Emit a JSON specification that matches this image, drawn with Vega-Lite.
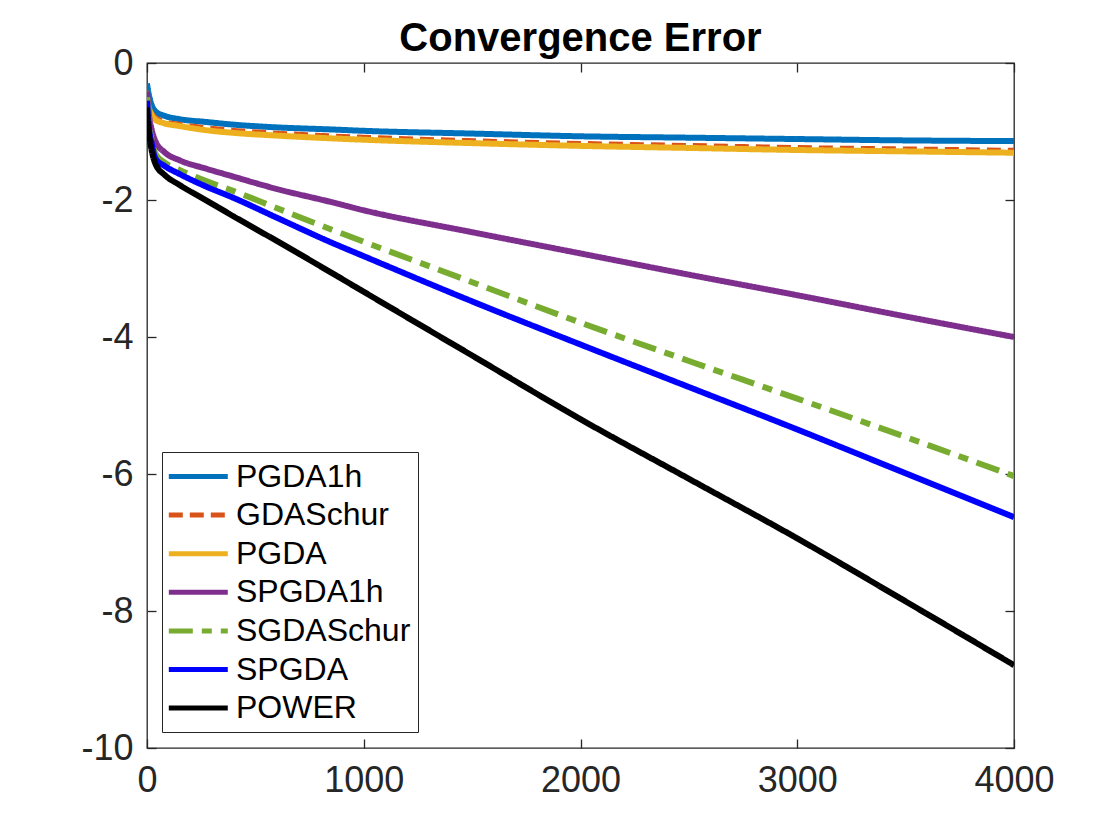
{
  "$schema": "https://vega.github.io/schema/vega-lite/v6.json",
  "width": 867,
  "height": 685,
  "autosize": {"type": "none"},
  "padding": {"left": 147, "top": 63, "right": 106, "bottom": 92},
  "background": "white",
  "title": {"text": "Convergence Error", "fontSize": 40, "fontWeight": "bold", "font": "Liberation Sans", "color": "#000000", "offset": -14},
  "config": {
    "font": "Liberation Sans",
    "view": {"stroke": "#262626", "strokeWidth": 1.3},
    "axis": {"grid": false, "domain": false, "labelFont": "Liberation Sans", "labelFontSize": 36, "labelColor": "#262626", "tickColor": "#262626", "tickSize": -9, "tickWidth": 1.3, "title": null, "labelFlush": false},
    "legend": {"labelFont": "Liberation Sans"}
  },
  "data": {"values": [
    {"series":"PGDA1h","x":0,"y":-0.3},{"series":"PGDA1h","x":5,"y":-0.4},{"series":"PGDA1h","x":10,"y":-0.48},{"series":"PGDA1h","x":20,"y":-0.6},{"series":"PGDA1h","x":40,"y":-0.71},{"series":"PGDA1h","x":80,"y":-0.77},{"series":"PGDA1h","x":150,"y":-0.82},{"series":"PGDA1h","x":270,"y":-0.86},{"series":"PGDA1h","x":400,"y":-0.9},{"series":"PGDA1h","x":600,"y":-0.94},{"series":"PGDA1h","x":850,"y":-0.97},{"series":"PGDA1h","x":1000,"y":-0.99},{"series":"PGDA1h","x":1500,"y":-1.03},{"series":"PGDA1h","x":2000,"y":-1.07},{"series":"PGDA1h","x":2500,"y":-1.09},{"series":"PGDA1h","x":3000,"y":-1.11},{"series":"PGDA1h","x":3500,"y":-1.13},{"series":"PGDA1h","x":4000,"y":-1.14},
    {"series":"GDASchur","x":0,"y":-0.4},{"series":"GDASchur","x":5,"y":-0.5},{"series":"GDASchur","x":10,"y":-0.58},{"series":"GDASchur","x":20,"y":-0.68},{"series":"GDASchur","x":40,"y":-0.78},{"series":"GDASchur","x":80,"y":-0.84},{"series":"GDASchur","x":150,"y":-0.88},{"series":"GDASchur","x":270,"y":-0.93},{"series":"GDASchur","x":400,"y":-0.97},{"series":"GDASchur","x":600,"y":-1.01},{"series":"GDASchur","x":850,"y":-1.05},{"series":"GDASchur","x":1000,"y":-1.07},{"series":"GDASchur","x":1500,"y":-1.12},{"series":"GDASchur","x":2000,"y":-1.16},{"series":"GDASchur","x":2500,"y":-1.19},{"series":"GDASchur","x":3000,"y":-1.22},{"series":"GDASchur","x":3500,"y":-1.24},{"series":"GDASchur","x":4000,"y":-1.26},
    {"series":"PGDA","x":0,"y":-0.5},{"series":"PGDA","x":5,"y":-0.6},{"series":"PGDA","x":10,"y":-0.67},{"series":"PGDA","x":20,"y":-0.75},{"series":"PGDA","x":40,"y":-0.83},{"series":"PGDA","x":80,"y":-0.88},{"series":"PGDA","x":150,"y":-0.92},{"series":"PGDA","x":270,"y":-0.98},{"series":"PGDA","x":400,"y":-1.02},{"series":"PGDA","x":600,"y":-1.06},{"series":"PGDA","x":850,"y":-1.1},{"series":"PGDA","x":1000,"y":-1.12},{"series":"PGDA","x":1500,"y":-1.17},{"series":"PGDA","x":2000,"y":-1.21},{"series":"PGDA","x":2500,"y":-1.24},{"series":"PGDA","x":3000,"y":-1.27},{"series":"PGDA","x":3500,"y":-1.29},{"series":"PGDA","x":4000,"y":-1.31},
    {"series":"SPGDA1h","x":0,"y":-0.42},{"series":"SPGDA1h","x":5,"y":-0.62},{"series":"SPGDA1h","x":10,"y":-0.78},{"series":"SPGDA1h","x":20,"y":-0.95},{"series":"SPGDA1h","x":40,"y":-1.15},{"series":"SPGDA1h","x":80,"y":-1.3},{"series":"SPGDA1h","x":150,"y":-1.42},{"series":"SPGDA1h","x":270,"y":-1.54},{"series":"SPGDA1h","x":400,"y":-1.66},{"series":"SPGDA1h","x":600,"y":-1.84},{"series":"SPGDA1h","x":850,"y":-2.03},{"series":"SPGDA1h","x":1000,"y":-2.15},{"series":"SPGDA1h","x":1500,"y":-2.47},{"series":"SPGDA1h","x":2000,"y":-2.78},{"series":"SPGDA1h","x":2500,"y":-3.09},{"series":"SPGDA1h","x":3000,"y":-3.39},{"series":"SPGDA1h","x":3500,"y":-3.7},{"series":"SPGDA1h","x":4000,"y":-4.0},
    {"series":"SGDASchur","x":0,"y":-0.5},{"series":"SGDASchur","x":5,"y":-0.75},{"series":"SGDASchur","x":10,"y":-0.92},{"series":"SGDASchur","x":20,"y":-1.1},{"series":"SGDASchur","x":40,"y":-1.33},{"series":"SGDASchur","x":80,"y":-1.45},{"series":"SGDASchur","x":150,"y":-1.56},{"series":"SGDASchur","x":270,"y":-1.72},{"series":"SGDASchur","x":400,"y":-1.87},{"series":"SGDASchur","x":600,"y":-2.12},{"series":"SGDASchur","x":850,"y":-2.43},{"series":"SGDASchur","x":1000,"y":-2.61},{"series":"SGDASchur","x":1500,"y":-3.2},{"series":"SGDASchur","x":2000,"y":-3.79},{"series":"SGDASchur","x":2500,"y":-4.35},{"series":"SGDASchur","x":3000,"y":-4.9},{"series":"SGDASchur","x":3500,"y":-5.46},{"series":"SGDASchur","x":4000,"y":-6.03},
    {"series":"SPGDA","x":0,"y":-0.55},{"series":"SPGDA","x":5,"y":-0.8},{"series":"SPGDA","x":10,"y":-0.98},{"series":"SPGDA","x":20,"y":-1.15},{"series":"SPGDA","x":40,"y":-1.4},{"series":"SPGDA","x":80,"y":-1.5},{"series":"SPGDA","x":150,"y":-1.62},{"series":"SPGDA","x":270,"y":-1.8},{"series":"SPGDA","x":400,"y":-1.97},{"series":"SPGDA","x":600,"y":-2.26},{"series":"SPGDA","x":850,"y":-2.62},{"series":"SPGDA","x":1000,"y":-2.82},{"series":"SPGDA","x":1500,"y":-3.48},{"series":"SPGDA","x":2000,"y":-4.11},{"series":"SPGDA","x":2500,"y":-4.73},{"series":"SPGDA","x":3000,"y":-5.35},{"series":"SPGDA","x":3500,"y":-5.99},{"series":"SPGDA","x":4000,"y":-6.63},
    {"series":"POWER","x":0,"y":-0.65},{"series":"POWER","x":5,"y":-0.9},{"series":"POWER","x":10,"y":-1.05},{"series":"POWER","x":20,"y":-1.25},{"series":"POWER","x":40,"y":-1.48},{"series":"POWER","x":80,"y":-1.63},{"series":"POWER","x":150,"y":-1.78},{"series":"POWER","x":270,"y":-2.0},{"series":"POWER","x":400,"y":-2.24},{"series":"POWER","x":600,"y":-2.6},{"series":"POWER","x":850,"y":-3.06},{"series":"POWER","x":1000,"y":-3.34},{"series":"POWER","x":1500,"y":-4.27},{"series":"POWER","x":2000,"y":-5.2},{"series":"POWER","x":2500,"y":-6.07},{"series":"POWER","x":3000,"y":-6.94},{"series":"POWER","x":3500,"y":-7.86},{"series":"POWER","x":4000,"y":-8.79}
  ]},
  "layer": [
    {
      "mark": {"type": "line", "clip": true, "strokeCap": "butt", "interpolate": "monotone"},
      "encoding": {
        "x": {"field": "x", "type": "quantitative", "scale": {"domain": [0, 4000], "nice": false, "zero": false},
              "axis": {"orient": "bottom", "values": [0, 1000, 2000, 3000, 4000], "labelPadding": 24, "labelExpr": "'' + datum.value"}},
        "y": {"field": "y", "type": "quantitative", "scale": {"domain": [-10, 0], "nice": false},
              "axis": {"orient": "left", "values": [-10, -8, -6, -4, -2, 0], "labelPadding": 23, "labelExpr": "'' + datum.value"}},
        "color": {"field": "series", "type": "nominal", "title": null,
                  "scale": {"domain": ["PGDA1h","GDASchur","PGDA","SPGDA1h","SGDASchur","SPGDA","POWER"],
                            "range": ["#0072BD","#D95319","#EDB120","#7E2F8E","#77AC30","#0000FF","#000000"]},
                  "legend": {"orient": "none", "legendX": 15, "legendY": 389, "symbolType": "M-1.2,0H2.8", "symbolSize": 870, "symbolStrokeWidth": 5,
                             "labelFontSize": 32, "labelColor": "#000000", "labelOffset": 32, "labelLimit": 400, "rowPadding": 4.6, "padding": 7,
                             "strokeColor": "#262626", "fillColor": "#ffffff", "cornerRadius": 0}},
        "strokeDash": {"field": "series", "type": "nominal", "title": null,
                       "scale": {"domain": ["PGDA1h","GDASchur","PGDA","SPGDA1h","SGDASchur","SPGDA","POWER"],
                                 "range": [[1,0],[14,7],[1,0],[1,0],[24,9,10,9],[1,0],[1,0]]}},
        "strokeWidth": {"condition": {"test": "datum.series === 'GDASchur'", "value": 3}, "value": 6}
      }
    },
    {
      "mark": {"type": "line", "opacity": 0},
      "encoding": {
        "x": {"field": "x", "type": "quantitative", "axis": {"orient": "top", "values": [0, 1000, 2000, 3000, 4000], "labels": false}},
        "y": {"field": "y", "type": "quantitative", "axis": {"orient": "right", "values": [-10, -8, -6, -4, -2, 0], "labels": false}},
        "detail": {"field": "series"}
      }
    }
  ],
  "resolve": {"axis": {"x": "independent", "y": "independent"}}
}
